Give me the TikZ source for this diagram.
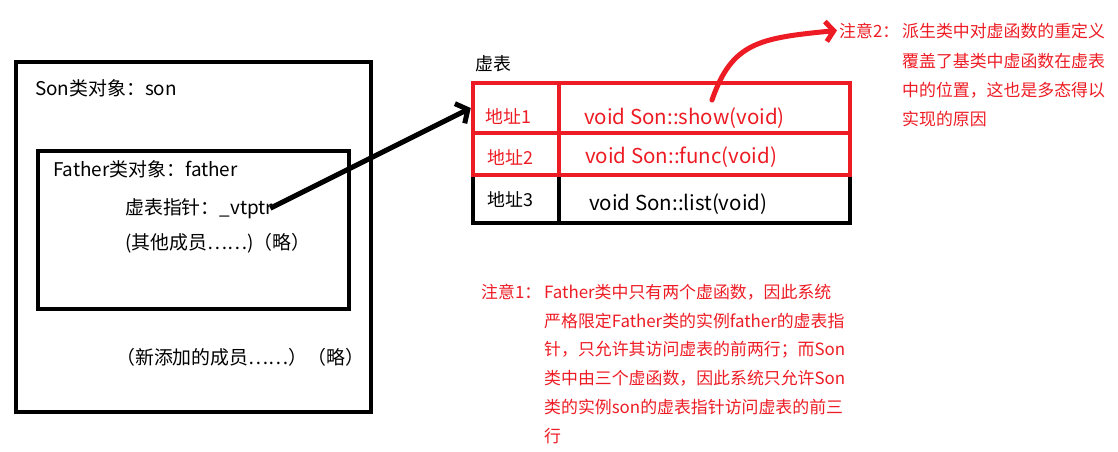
\documentclass[tikz,border=0pt]{standalone}
\usepackage{fontspec}
\setmainfont{Noto Sans CJK SC}
\usetikzlibrary{arrows.meta}
\definecolor{pred}{RGB}{237,28,36}
\begin{document}
\begin{tikzpicture}[x=1pt,y=-1pt,
  objbox/.style={draw=black,line width=4pt},
  cellblack/.style={draw=black,line width=4.5pt,inner sep=0pt,minimum width=#1,minimum height=48pt},
  cellred/.style={draw=pred,line width=4.5pt,inner sep=0pt,minimum width=#1},
  txt/.style={anchor=base west,inner sep=0pt,font=\fontsize{18.9}{22}\selectfont},
  ttxt/.style={anchor=base west,inner sep=0pt,font=\fontsize{17.9}{21}\selectfont},
  ftxt/.style={anchor=base west,inner sep=0pt,font=\fontsize{20.5}{24}\selectfont},
  note/.style={anchor=base west,inner sep=0pt,text=pred,font=\fontsize{16.9}{20}\selectfont},
  blackarrow/.style={draw=black,line width=5pt,-{Straight Barb[length=9pt,width=22pt,line width=5pt]}},
  redarrow/.style={draw=pred,line width=5pt,line cap=round,-{Straight Barb[length=8pt,width=20pt,line width=5pt]}}
]
\useasboundingbox (0,0) rectangle (1118,451);
% object boxes
\node[objbox,inner sep=0pt,minimum width=355pt,minimum height=350pt] (son) at (193.5,237) {};
\node[objbox,inner sep=0pt,minimum width=311pt,minimum height=158pt] (father) at (193.5,230) {};
\node[txt] (sonlab) at (35,95) {Son类对象：son};
\node[txt] (fatherlab) at (53,176) {Father类对象：father};
\node[txt] (vtptr) at (125,214) {虚表指针：\_vtptr};
\node[txt] (others) at (125,249) {(其他成员……)（略）};
\node[txt] (newmem) at (116,364) {（新添加的成员……）（略）};
% virtual table
\node[ttxt] (vtlab) at (475,70) {虚表};
\node[cellblack=86pt] (r3a) at (516,199) {};
\node[cellblack=291pt] (r3b) at (704.5,199) {};
\node[cellred=86pt,minimum height=50pt] (r1a) at (516,108) {};
\node[cellred=291pt,minimum height=50pt] (r1b) at (704.5,108) {};
\node[cellred=86pt,minimum height=42pt] (r2a) at (516,154) {};
\node[cellred=291pt,minimum height=42pt] (r2b) at (704.5,154) {};
\node[ttxt,text=pred] (a1) at (485,123) {地址1};
\node[ftxt,text=pred] (f1) at (584,124) {void Son::show(void)};
\node[ttxt,text=pred] (a2) at (487,164) {地址2};
\node[ftxt,text=pred] (f2) at (585,163) {void Son::func(void)};
\node[ttxt] (a3) at (487,206) {地址3};
\node[ftxt] (f3) at (589,210) {void Son::list(void)};
% note 2
\node[note] (n2lab) at (839,37) {注意2：};
\node[note] (n2a) at (902,37) {派生类中对虚函数的重定义};
\node[note] (n2b) at (902,67) {覆盖了基类中虚函数在虚表};
\node[note] (n2c) at (902,96) {中的位置，这也是多态得以};
\node[note] (n2d) at (902,125) {实现的原因};
% note 1
\node[note] (n1lab) at (481,298) {注意1：};
\node[note] (n1a) at (544,298) {Father类中只有两个虚函数，因此系统};
\node[note] (n1b) at (544,327) {严格限定Father类的实例father的虚表指};
\node[note] (n1c) at (544,355) {针，只允许其访问虚表的前两行；而Son};
\node[note] (n1d) at (544,384) {类中由三个虚函数，因此系统只允许Son};
\node[note] (n1e) at (544,413) {类的实例son的虚表指针访问虚表的前三};
\node[note] (n1f) at (544,442) {行};
% connectors
\draw[blackarrow] ([xshift=-3pt]vtptr.east) -- (r1a.west);
\coordinate (cstart) at (712,100);
\draw[redarrow] (cstart) .. controls (732,42) and (760,38) .. ([xshift=-2pt]n2lab.west);
\end{tikzpicture}
\end{document}
